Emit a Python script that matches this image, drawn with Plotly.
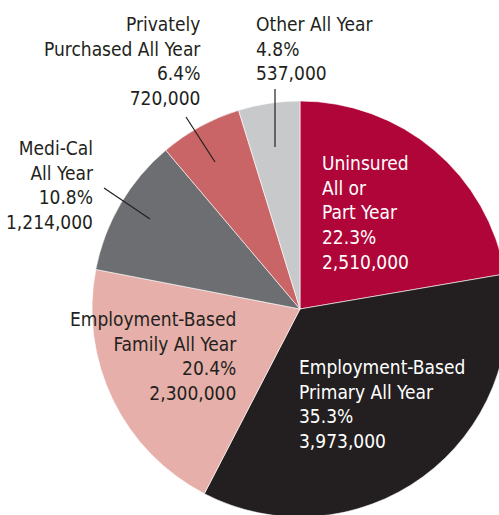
import plotly.graph_objects as go

# ---- data ----
categories = ["Uninsured<br>All or<br>Part Year",
              "Employment-Based<br>Primary All Year",
              "Employment-Based<br>Family All Year",
              "Medi-Cal<br>All Year",
              "Privately<br>Purchased All Year",
              "Other All Year"]
counts = [2510000, 3973000, 2300000, 1214000, 720000, 537000]
percents = ["22.3%", "35.3%", "20.4%", "10.8%", "6.4%", "4.8%"]
count_labels = ["2,510,000", "3,973,000", "2,300,000", "1,214,000", "720,000", "537,000"]
colors = ["#B00538", "#231F20", "#E6AFA9", "#6D6E71", "#C96567", "#C8C9CB"]

# ---- geometry (pixels) ----
W, H = 520, 530
cx, cy, R = 300, 309, 208

def px(x):
    return x / W

def py(y):
    return 1 - y / H

FONT = "Liberation Sans Narrow, DejaVu Sans Condensed, Arial Narrow, sans-serif"
DARK = "#231F20"

fig = go.Figure(go.Pie(
    values=counts,
    labels=[c.replace("<br>", " ") for c in categories],
    marker=dict(colors=colors, line=dict(color="white", width=0.6)),
    sort=False,
    direction="clockwise",
    rotation=0,
    textinfo="none",
    hoverinfo="label+percent+value",
    domain=dict(x=[px(cx - R), px(cx + R)], y=[py(cy + R), py(cy - R)]),
    showlegend=False,
))

# label placement: (x, first-line centre y, anchor, colour)
label_pos = [
    (320, 162, "left", "white"),
    (297, 366, "left", "white"),
    (239, 318, "right", DARK),
    (96, 147, "right", DARK),
    (203, 23, "right", DARK),
    (254, 23, "left", DARK),
]
for cat, pct, cnt, (x, y, anc, col) in zip(categories, percents, count_labels, label_pos):
    fig.add_annotation(
        x=px(x), y=py(y - 12.5), xref="paper", yref="paper",
        xanchor=anc, yanchor="top", align=anc, showarrow=False,
        text=f"{cat}<br>{pct}<br>{cnt}",
        font=dict(family=FONT, size=19, color=col),
    )

# leader lines
leaders = [((275, 89), (275, 147)),
           ((186, 117), (215, 162)),
           ((104, 188), (150, 219))]
for (x0, y0), (x1, y1) in leaders:
    fig.add_shape(type="line", xref="paper", yref="paper",
                  x0=px(x0), y0=py(y0), x1=px(x1), y1=py(y1),
                  line=dict(color=DARK, width=1.2))

fig.update_layout(
    width=W, height=H,
    margin=dict(l=0, r=0, t=0, b=0),
    paper_bgcolor="white", plot_bgcolor="white",
)

fig.write_html("out.html",
               config={"displayModeBar": False},
               post_script="document.body.style.margin='0';document.body.style.overflow='hidden';")
